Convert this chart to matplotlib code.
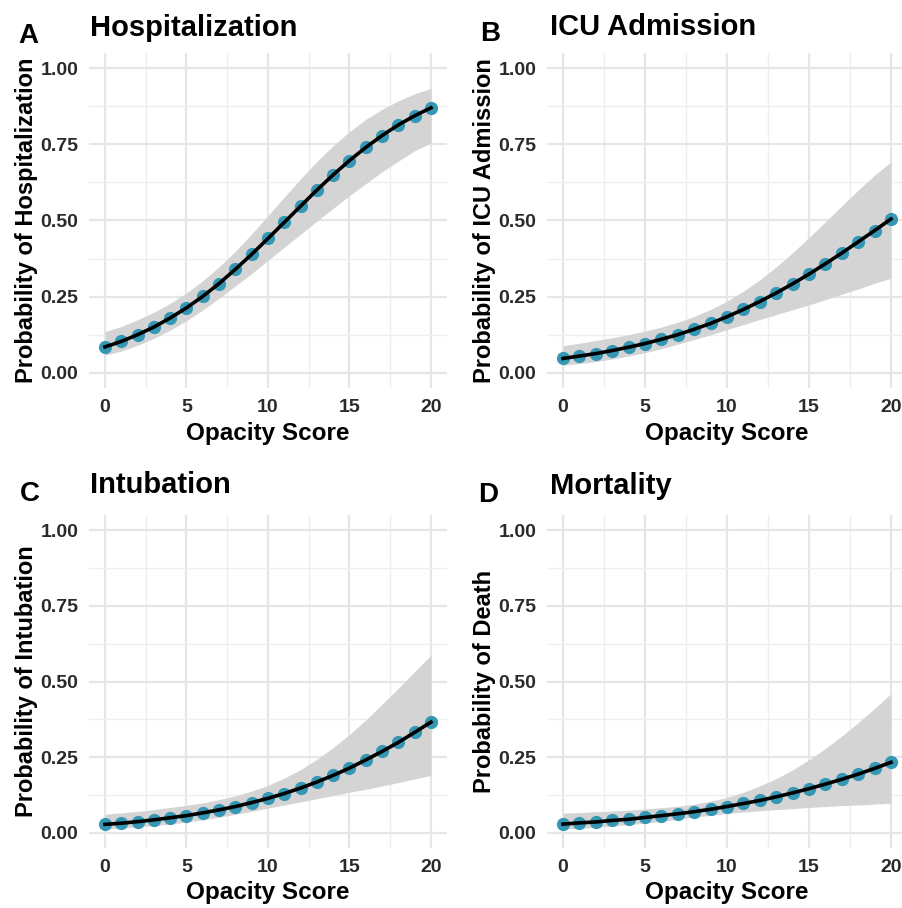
import matplotlib.pyplot as plt
from matplotlib.ticker import MultipleLocator

plt.rcParams['font.family'] = ['Liberation Sans', 'DejaVu Sans']
plt.rcParams['font.weight'] = 'bold'

# opacity score 0..20, predicted probability with 95% band
score = list(range(21))

hosp_fit = [0.085, 0.103, 0.125, 0.150, 0.180, 0.213, 0.251, 0.293, 0.340, 0.389, 0.441,
            0.494, 0.547, 0.600, 0.650, 0.697, 0.740, 0.779, 0.814, 0.844, 0.870]
hosp_lo = [0.058, 0.071, 0.090, 0.113, 0.140, 0.171, 0.206, 0.245, 0.285, 0.326, 0.369,
           0.412, 0.455, 0.498, 0.540, 0.582, 0.621, 0.660, 0.695, 0.729, 0.755]
hosp_hi = [0.135, 0.152, 0.174, 0.199, 0.228, 0.262, 0.302, 0.348, 0.399, 0.456, 0.516,
           0.577, 0.637, 0.694, 0.746, 0.792, 0.832, 0.865, 0.893, 0.916, 0.934]

icu_fit = [0.047, 0.055, 0.063, 0.073, 0.084, 0.096, 0.110, 0.125, 0.143, 0.162, 0.184,
           0.208, 0.234, 0.262, 0.292, 0.324, 0.358, 0.393, 0.430, 0.467, 0.505]
icu_lo = [0.025, 0.030, 0.037, 0.045, 0.055, 0.066, 0.079, 0.094, 0.109, 0.125, 0.142,
          0.158, 0.175, 0.191, 0.207, 0.223, 0.240, 0.258, 0.275, 0.294, 0.310]
icu_hi = [0.089, 0.097, 0.106, 0.115, 0.125, 0.137, 0.150, 0.166, 0.185, 0.208, 0.235,
          0.268, 0.305, 0.348, 0.394, 0.444, 0.496, 0.548, 0.600, 0.649, 0.692]

intub_fit = [0.028, 0.032, 0.037, 0.043, 0.050, 0.057, 0.066, 0.076, 0.087, 0.100, 0.114,
             0.130, 0.148, 0.168, 0.190, 0.214, 0.241, 0.269, 0.299, 0.332, 0.366]
intub_lo = [0.013, 0.016, 0.020, 0.024, 0.029, 0.036, 0.043, 0.052, 0.061, 0.071, 0.082,
            0.092, 0.102, 0.113, 0.123, 0.134, 0.144, 0.155, 0.166, 0.178, 0.190]
intub_hi = [0.062, 0.066, 0.071, 0.077, 0.084, 0.091, 0.099, 0.110, 0.122, 0.138, 0.157,
            0.181, 0.209, 0.243, 0.282, 0.325, 0.373, 0.425, 0.478, 0.533, 0.587]

death_fit = [0.029, 0.033, 0.036, 0.041, 0.045, 0.051, 0.057, 0.063, 0.070, 0.078, 0.087,
             0.097, 0.107, 0.119, 0.132, 0.146, 0.161, 0.177, 0.194, 0.213, 0.233]
death_lo = [0.013, 0.015, 0.019, 0.023, 0.027, 0.032, 0.038, 0.045, 0.052, 0.058, 0.064,
            0.069, 0.073, 0.077, 0.080, 0.084, 0.087, 0.090, 0.092, 0.095, 0.098]
death_hi = [0.065, 0.067, 0.070, 0.072, 0.075, 0.079, 0.083, 0.088, 0.095, 0.105, 0.117,
            0.134, 0.155, 0.179, 0.208, 0.241, 0.279, 0.320, 0.364, 0.411, 0.460]

panels = [
    ("A", "Hospitalization", "Probability of Hospitalization", hosp_fit, hosp_lo, hosp_hi),
    ("B", "ICU Admission", "Probability of ICU Admission", icu_fit, icu_lo, icu_hi),
    ("C", "Intubation", "Probability of Intubation", intub_fit, intub_lo, intub_hi),
    ("D", "Mortality", "Probability of Death", death_fit, death_lo, death_hi),
]

W, H = 903, 908
fig = plt.figure(figsize=(W / 100, H / 100), dpi=100)

# axes boxes in pixels: left, top, width, height
boxes = [(88.7, 53, 358.6, 335), (546.6, 53, 360.8, 335),
         (88.7, 515, 358.6, 333), (546.6, 515, 360.8, 333)]
# panel letter, title and label anchors in pixels
letter_pos = [(28, 36), (490, 34), (30, 494), (488, 495)]
title_pos = [(90, 28), (550, 27), (90, 485), (550, 486)]
ylabel_x = [38, 496, 38, 496]
xlabel_top = [422, 422, 881, 881]

for i, (letter, title, ylab, fit, lo, hi) in enumerate(panels):
    l, t, w, h = boxes[i]
    ax = fig.add_axes([l / W, 1 - (t + h) / H, w / W, h / H])
    ax.fill_between(score, lo, hi, color='#d4d4d4', lw=0, zorder=2)
    ax.plot(score, fit, 'o', color='#3597b4', ms=8.5, mec='#3597b4', zorder=3)
    ax.plot(score, fit, color='black', lw=2.6, zorder=4)

    ax.set_xlim(-1, 21)
    ax.set_ylim(-0.05, 1.05)
    ax.xaxis.set_major_locator(MultipleLocator(5))
    ax.xaxis.set_minor_locator(MultipleLocator(2.5))
    ax.yaxis.set_minor_locator(MultipleLocator(0.125))
    ax.set_yticks([0, 0.25, 0.5, 0.75, 1.0])
    ax.set_yticklabels(['0.00', '0.25', '0.50', '0.75', '1.00'])
    ax.grid(which='major', color='#e6e6e6', lw=1.6, zorder=0)
    ax.grid(which='minor', color='#eeeeee', lw=1.0, zorder=0)
    ax.set_axisbelow(True)
    for s in ax.spines.values():
        s.set_visible(False)
    ax.tick_params(which='both', length=0, labelsize=14, labelcolor='#2a2a2a')
    ax.tick_params(axis='x', pad=8)
    ax.tick_params(axis='y', pad=7.5)

    ax.set_xlabel("Opacity Score", fontsize=17.5, fontweight='bold')
    ax.xaxis.set_label_coords(0.5, -(xlabel_top[i] - (t + h)) / h)
    ax.set_ylabel(ylab, fontsize=17, fontweight='bold')
    ax.yaxis.set_label_coords((ylabel_x[i] - l) / w, 0.5)

    fig.text(letter_pos[i][0] / W, 1 - letter_pos[i][1] / H, letter, fontsize=20,
             fontweight='bold', ha='center', va='center')
    fig.text(title_pos[i][0] / W, 1 - title_pos[i][1] / H, title, fontsize=21,
             fontweight='bold', ha='left', va='center')

fig.savefig("out.png", dpi=100, facecolor='white')
